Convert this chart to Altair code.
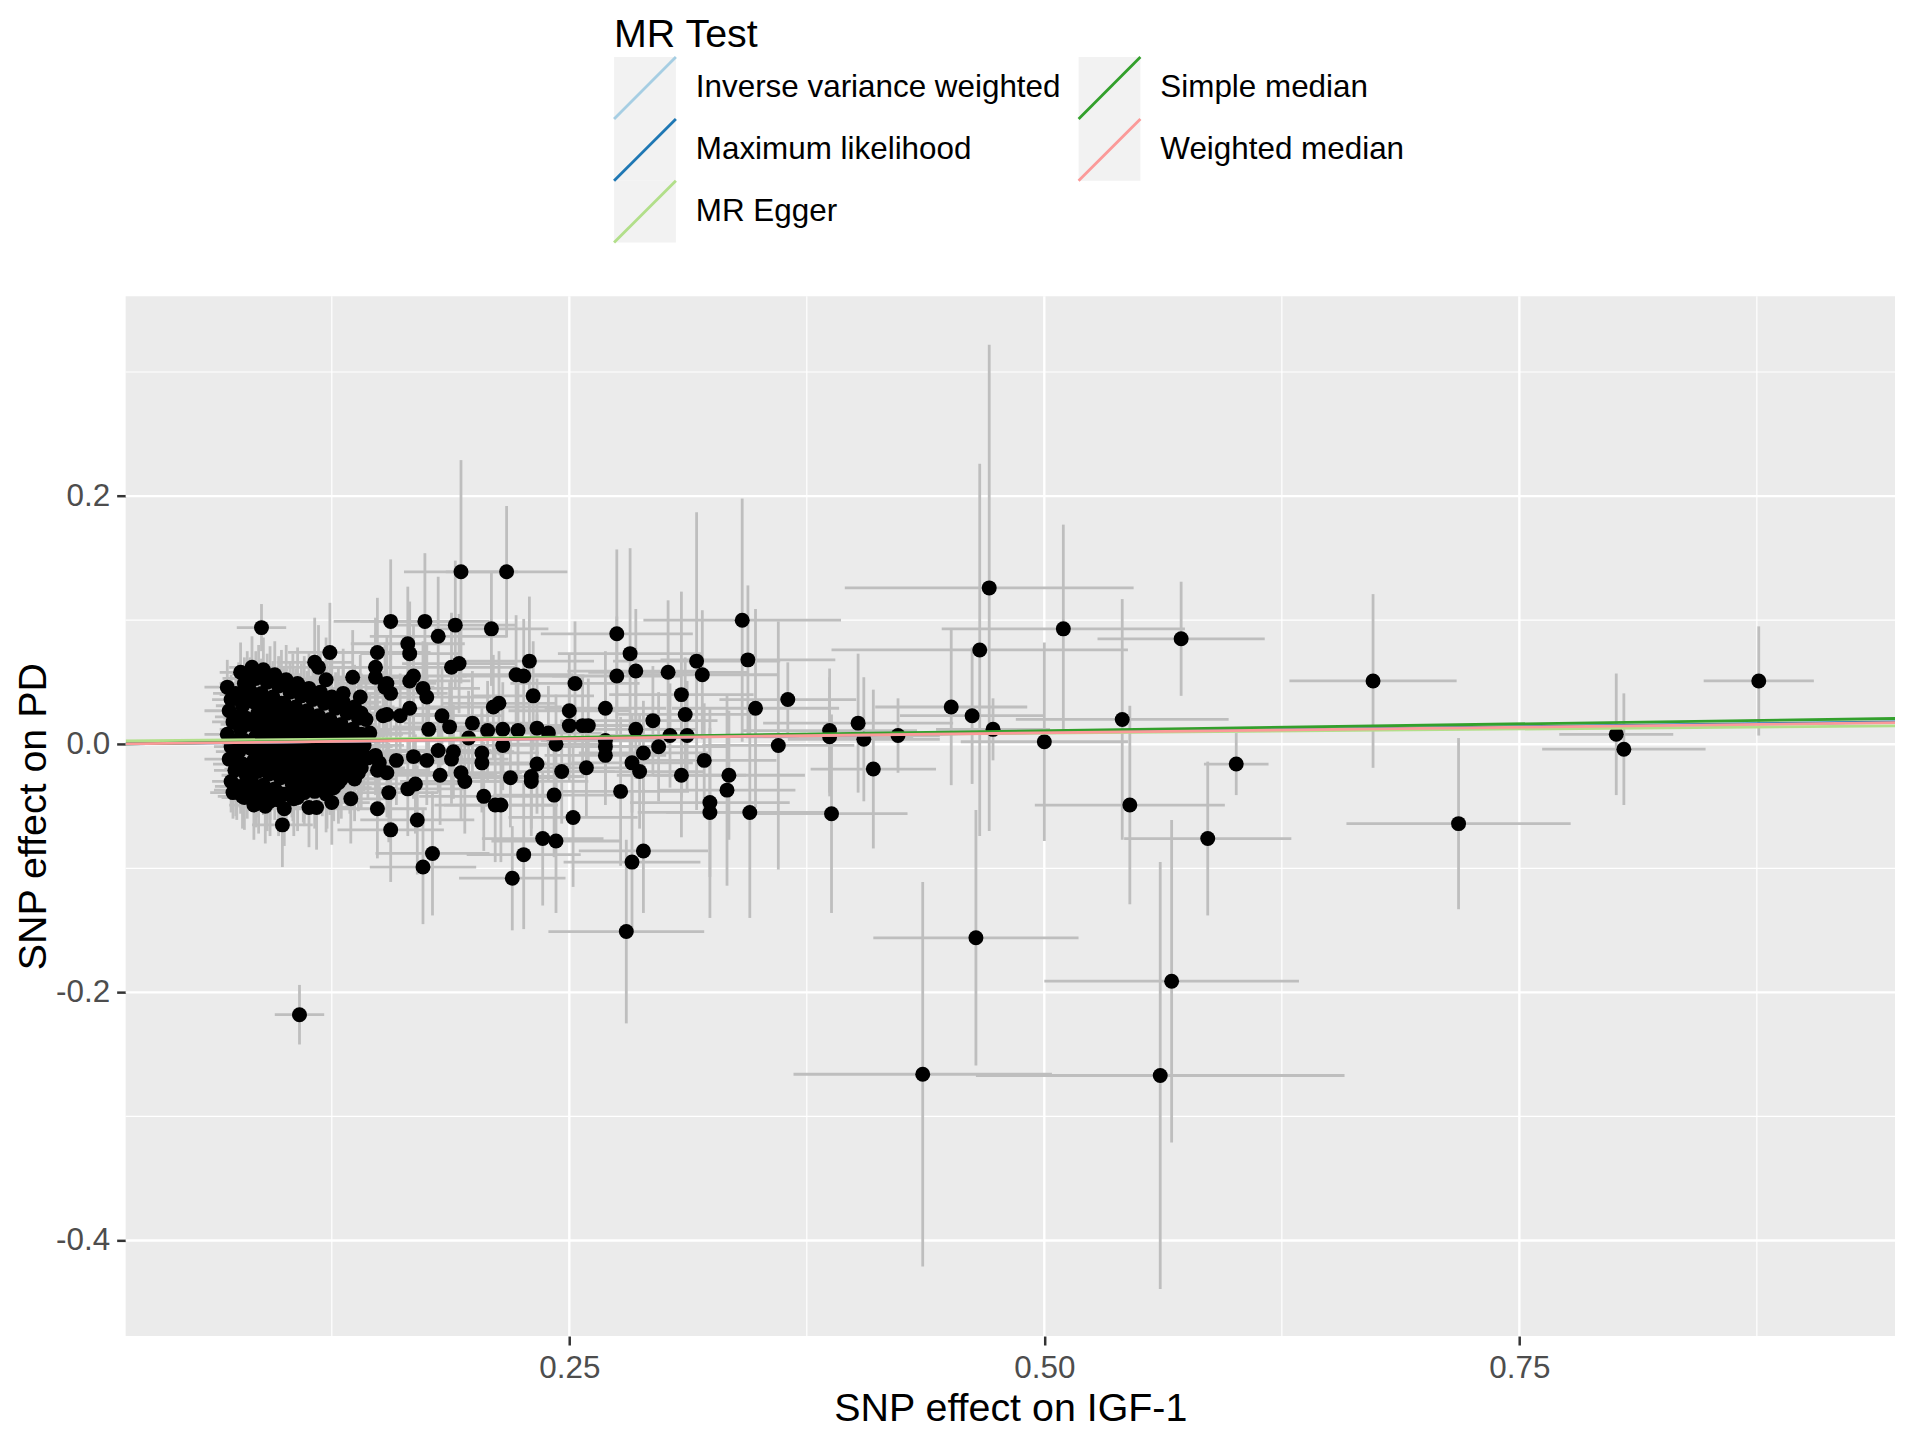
import altair as alt
import pandas as pd

# ---------------- data ----------------
# dense cluster of SNPs (small IGF-1 effects)
dense_x = [
    .070, .072, .071, .073, .070, .072, .071, .074, .072, .073,
    .077, .079, .076, .078, .080, .077, .079, .076, .078, .080, .077, .079,
    .083, .085, .082, .084, .086, .083, .085, .082, .084, .086, .083, .085, .084,
    .089, .091, .088, .090, .092, .089, .091, .088, .090, .092, .089, .091, .090,
    .095, .097, .094, .096, .098, .095, .097, .094, .096, .098, .095, .097,
    .101, .103, .100, .102, .104, .101, .103, .100, .102, .104, .101,
    .107, .109, .106, .108, .110, .107, .109, .106, .108, .110, .107,
    .113, .115, .112, .114, .116, .113, .115, .112, .114, .116,
    .119, .121, .118, .120, .122, .119, .121, .118, .120, .122,
    .125, .127, .124, .126, .128, .125, .127, .124, .126,
    .131, .133, .130, .132, .134, .131, .133, .130,
    .137, .139, .136, .138, .140, .137, .139,
    .143, .145, .142, .144,
]
dense_y = [
    .046, .036, .027, .018, .008, -.002, -.012, -.021, -.030, -.039,
    .058, .049, .040, .031, .021, .012, .003, -.006, -.016, -.025, -.034, -.043,
    .062, .053, .043, .034, .025, .016, .006, -.003, -.013, -.022, -.031, -.040, -.049,
    .060, .050, .041, .031, .022, .013, .004, -.005, -.014, -.024, -.033, -.042, -.050,
    .056, .047, .038, .028, .019, .010, .001, -.008, -.017, -.027, -.036, -.045,
    .052, .042, .033, .024, .014, .005, -.004, -.013, -.022, -.031, -.040,
    .049, .039, .030, .021, .011, .002, -.007, -.016, -.025, -.034, -.043,
    .045, .036, .027, .017, .008, -.001, -.010, -.019, -.029, -.038,
    .042, .033, .023, .014, .005, -.004, -.013, -.022, -.032, -.040,
    .038, .029, .020, .011, .002, -.008, -.017, -.026, -.035,
    .034, .025, .016, .007, -.002, -.011, -.020, -.028,
    .030, .021, .012, .003, -.006, -.015, -.023,
    .020, .009, -.001, -.011,
]
dense_se_x = [
    .012, .010, .013, .011, .012, .009, .013, .011, .010, .012,
    .011, .013, .010, .014, .012, .011, .015, .012, .010, .013, .011, .012,
    .012, .014, .011, .013, .015, .012, .014, .011, .013, .012, .014, .012, .013,
    .013, .015, .012, .014, .016, .013, .015, .012, .014, .013, .015, .013, .014,
    .014, .016, .013, .015, .017, .014, .016, .013, .015, .014, .016, .014,
    .015, .017, .014, .016, .018, .015, .017, .014, .016, .015, .017,
    .016, .018, .015, .017, .019, .016, .018, .015, .017, .016, .018,
    .017, .019, .016, .018, .020, .017, .019, .016, .018, .017,
    .018, .020, .017, .019, .021, .018, .020, .017, .019, .018,
    .019, .021, .018, .020, .022, .019, .021, .018, .020,
    .020, .022, .019, .021, .023, .020, .022, .019,
    .021, .023, .020, .022, .024, .021, .023,
    .022, .024, .021, .023,
]
dense_se_y = [
    .022, .020, .024, .021, .019, .023, .020, .022, .025, .021,
    .024, .021, .026, .022, .020, .025, .021, .023, .019, .024, .022, .026,
    .025, .022, .027, .023, .021, .026, .022, .024, .020, .025, .023, .027, .028,
    .026, .023, .028, .024, .022, .027, .023, .025, .021, .026, .024, .028, .030,
    .027, .024, .029, .025, .023, .028, .024, .026, .022, .027, .025, .029,
    .028, .025, .030, .026, .024, .029, .025, .027, .023, .028, .026,
    .029, .026, .031, .027, .025, .030, .026, .028, .024, .029, .027,
    .030, .027, .032, .028, .026, .031, .027, .029, .025, .030,
    .031, .028, .033, .029, .027, .032, .028, .030, .026, .031,
    .032, .029, .034, .030, .028, .033, .029, .031, .027,
    .033, .030, .035, .031, .029, .034, .030, .032,
    .034, .031, .036, .032, .030, .035, .031,
    .035, .032, .037, .033,
]

# more SNPs inside the cluster (in between the ones above)
inner_x = [.0745, .0745, .0745, .0745, .0745,
           .0805, .0805, .0805, .0805, .0805, .0805,
           .0865, .0865, .0865, .0865, .0865, .0865, .0865,
           .0925, .0925, .0925, .0925, .0925, .0925, .0925,
           .0985, .0985, .0985, .0985, .0985, .0985,
           .1045, .1045, .1045, .1045, .1045, .1045,
           .1105, .1105, .1105, .1105, .1105, .1105,
           .1165, .1165, .1165, .1165, .1165,
           .1225, .1225, .1225, .1225, .1225,
           .1285, .1285, .1285, .1285, .1285,
           .1345, .1345, .1345, .1345,
           .1405, .1405, .1405, .1405]
inner_y = [.041, .022, .003, -.016, -.034,
           .053, .035, .016, -.001, -.020, -.038,
           .057, .038, .020, .001, -.018, -.036, -.045,
           .055, .036, .017, -.001, -.019, -.037, -.046,
           .051, .033, .014, -.003, -.022, -.040,
           .047, .028, .010, -.009, -.027, -.036,
           .044, .025, .007, -.012, -.030, -.039,
           .040, .022, .003, -.015, -.033,
           .037, .018, .000, -.018, -.036,
           .033, .015, -.004, -.022, -.031,
           .029, .011, -.007, -.024,
           .025, .008, -.010, -.019]
inner_se_x = [.012, .011, .013, .012, .011,
              .013, .012, .014, .013, .012, .013,
              .014, .013, .015, .014, .013, .014, .015,
              .015, .014, .016, .015, .014, .015, .016,
              .016, .015, .017, .016, .015, .016,
              .017, .016, .018, .017, .016, .017,
              .018, .017, .019, .018, .017, .018,
              .019, .018, .020, .019, .018,
              .020, .019, .021, .020, .019,
              .021, .020, .022, .021, .020,
              .022, .021, .023, .022,
              .023, .022, .024, .023]
inner_se_y = [.021, .023, .020, .022, .024,
              .022, .024, .021, .023, .025, .022,
              .023, .025, .022, .024, .026, .023, .027,
              .024, .026, .023, .025, .027, .024, .028,
              .025, .027, .024, .026, .028, .025,
              .026, .028, .025, .027, .029, .026,
              .027, .029, .026, .028, .030, .027,
              .028, .030, .027, .029, .031,
              .029, .031, .028, .030, .032,
              .030, .032, .029, .031, .033,
              .031, .033, .030, .032,
              .032, .034, .031, .033]

# scattered SNPs around the cluster (x 0.07 - 0.21)
scatter_x = [.156, .174, .190, .181, .209, .193, .124, .149, .165, .166,
             .116, .118, .188, .192, .122, .136, .148, .148, .154, .156,
             .168, .166, .173, .175, .140, .131, .210, .152, .161, .166,
             .183, .187, .176, .199, .207, .197, .204, .204, .189, .188,
             .181, .175, .168, .159, .148, .150, .149, .137, .182, .193,
             .195, .169, .165, .155, .205, .211, .135, .125, .113, .117,
             .149, .170, .156, .178, .173, .099, .100, .105, .075, .078,
             .088, .108, .153, .154, .154]
scatter_y = [.099, .099, .096, .087, .093, .139, .074, .074, .081, .073,
             .066, .062, .062, .065, .052, .054, .062, .054, .049, .041,
             .055, .051, .045, .038, .038, .041, .030, .023, .023, .029,
             .023, .014, .012, .017, .011, .005, -.007, -.015, -.006, -.012,
             -.005, -.013, -.010, -.013, -.009, -.015, -.021, -.028, -.025, -.023,
             -.030, -.032, -.036, -.039, -.042, -.049, -.044, -.047, -.051, -.051,
             -.052, -.061, -.069, -.088, -.099, -.065, -.052, -.044, -.037, -.042,
             .094, -.218, .046, .024, -.023]
scatter_se_x = [.030, .034, .032, .036, .030, .030, .022, .028, .030, .026,
                .020, .022, .034, .030, .022, .024, .026, .028, .026, .030,
                .028, .032, .030, .034, .024, .022, .036, .028, .030, .026,
                .032, .030, .034, .036, .034, .032, .030, .034, .032, .030,
                .028, .030, .026, .028, .026, .024, .026, .022, .030, .032,
                .034, .028, .030, .026, .034, .032, .022, .020, .018, .020,
                .026, .030, .028, .030, .028, .016, .016, .018, .012, .013,
                .013, .013, .026, .028, .026]
scatter_se_y = [.050, .055, .052, .048, .046, .090, .040, .044, .046, .042,
                .036, .034, .044, .040, .034, .038, .040, .036, .038, .036,
                .042, .040, .038, .044, .034, .036, .042, .036, .034, .038,
                .040, .036, .038, .042, .040, .038, .036, .040, .038, .036,
                .034, .036, .034, .036, .032, .034, .036, .034, .040, .038,
                .042, .040, .038, .040, .044, .046, .036, .034, .032, .034,
                .040, .044, .042, .050, .046, .034, .030, .030, .024, .026,
                .019, .024, .036, .034, .036]

# SNPs with moderate IGF-1 effects (x 0.21 - 0.40)
mid_x = [.217, .341, .275, .282, .285, .275, .302, .317, .320, .344,
         .309, .311, .294, .285, .303, .312, .348, .365, .360, .387,
         .387, .402, .321, .309, .334, .333, .324, .324, .345, .388,
         .297, .289, .283, .287, .277, .269, .269, .269, .259, .269,
         .257, .260, .250, .250, .253, .246, .243, .239, .233, .231,
         .229, .222, .226, .223, .215, .215, .213, .233, .230, .230,
         .219, .242, .252, .214, .236, .243, .226, .220, .283, .289,
         .280]
mid_y = [.139, .100, .089, .073, .059, .055, .058, .067, .056, .068,
         .040, .024, .019, .012, .007, .007, .029, .036, -.001, .011,
         .006, .017, -.013, -.025, -.025, -.037, -.047, -.055, -.055, -.056,
         -.002, -.007, -.015, -.022, -.038, -.009, -.002, .003, -.019, .029,
         .015, .015, .015, .027, .049, -.022, .000, .009, .013, .039,
         .067, .056, .055, .011, .012, -.001, .033, -.016, -.026, -.030,
         -.027, -.041, -.059, -.049, -.076, -.078, -.089, -.108, -.095, -.086,
         -.151]
mid_se_x = [.032, .052, .040, .038, .036, .034, .042, .044, .040, .046,
            .038, .036, .034, .032, .036, .040, .044, .036, .040, .046,
            .044, .050, .038, .034, .040, .036, .042, .038, .044, .040,
            .036, .034, .032, .034, .036, .032, .030, .034, .030, .032,
            .030, .028, .030, .032, .034, .028, .030, .028, .030, .032,
            .034, .030, .032, .028, .030, .028, .030, .030, .028, .030,
            .028, .032, .034, .030, .032, .034, .030, .028, .036, .034,
            .041]
mid_se_y = [.053, .098, .068, .085, .050, .048, .058, .120, .052, .060,
            .083, .046, .044, .040, .042, .044, .080, .030, .100, .050,
            .048, .056, .046, .050, .052, .077, .060, .085, .085, .080,
            .044, .042, .040, .046, .060, .040, .038, .042, .040, .046,
            .040, .038, .044, .046, .050, .042, .040, .038, .040, .044,
            .052, .048, .046, .040, .038, .036, .042, .040, .042, .044,
            .040, .050, .056, .046, .054, .058, .060, .042, .056, .050,
            .074]

# SNPs with large IGF-1 effects
far_x = [.423, .405, .410, .451, .462, .466, .471, .473, .464, .436,
         .561, .567, .500, .510, .541, .545, .572, .601, .586, .673,
         .718, .801, .805, .876]
far_y = [.007, .004, -.020, .030, .023, .076, .126, .012, -.156, -.266,
         -.267, -.191, .002, .093, .020, -.049, .085, -.016, -.076, .051,
         -.064, .008, -.004, .051]
far_se_x = [.022, .040, .033, .040, .038, .078, .076, .030, .054, .068,
            .097, .067, .044, .064, .056, .050, .044, .017, .044, .044,
            .059, .030, .043, .029]
far_se_y = [.030, .050, .064, .063, .055, .150, .196, .025, .103, .155,
            .172, .130, .080, .084, .097, .080, .046, .025, .062, .070,
            .069, .049, .045, .044]

# MR estimates (lines through the scatter)
methods = ["Inverse variance weighted", "Maximum likelihood", "MR Egger",
           "Simple median", "Weighted median"]
method_colors = ["#a6cee3", "#1f78b4", "#b2df8a", "#33a02c", "#fb9a99"]
intercepts = [0.0, 0.0, 0.0025, 0.0, 0.0]
slopes = [0.0185, 0.0189, 0.0130, 0.0219, 0.0183]

x_domain = [0.0165, 0.9477]
y_domain = [-0.477, 0.361]
x_major = [0.25, 0.50, 0.75]
x_minor = [0.125, 0.375, 0.625, 0.875]
y_major = [-0.4, -0.2, 0.0, 0.2]
y_minor = [-0.3, -0.1, 0.1, 0.3]

# ---------------- tables ----------------
snp = pd.DataFrame({
    "x": dense_x + inner_x + scatter_x + mid_x + far_x,
    "y": dense_y + inner_y + scatter_y + mid_y + far_y,
    "sx": dense_se_x + inner_se_x + scatter_se_x + mid_se_x + far_se_x,
    "sy": dense_se_y + inner_se_y + scatter_se_y + mid_se_y + far_se_y,
})
snp["xlo"] = snp["x"] - snp["sx"]
snp["xhi"] = snp["x"] + snp["sx"]
snp["ylo"] = snp["y"] - snp["sy"]
snp["yhi"] = snp["y"] + snp["sy"]

line_rows = []
for m, a, b in zip(methods, intercepts, slopes):
    for xv in x_domain:
        line_rows.append({"method": m, "x": xv, "y": a + b * xv})
lines = pd.DataFrame(line_rows)

FONT = "Liberation Sans"
X_TITLE = "SNP effect on IGF-1"
Y_TITLE = "SNP effect on PD"
PLOT_W = 1775
PLOT_H = 1043
LEGEND_H = 285
LABEL_FS = 31.5
TITLE_FS = 39.5

xscale = alt.Scale(domain=x_domain, nice=False, zero=False)
yscale = alt.Scale(domain=y_domain, nice=False, zero=False)

x_axis = alt.Axis(values=x_major, format=".2f", grid=False, domain=False,
                  tickSize=9, tickWidth=2.5, tickColor="#333333",
                  labelColor="#4d4d4d", labelFontSize=LABEL_FS, labelFont=FONT,
                  labelPadding=8, labelFlush=False,
                  titleFontSize=TITLE_FS, titleFont=FONT, titleFontWeight="normal",
                  titleColor="black", titlePadding=5)
y_axis = alt.Axis(values=y_major, grid=False, domain=False,
                  labelExpr="replace(format(datum.value, '.1f'), '\u2212', '-')",
                  tickSize=9, tickWidth=2.5, tickColor="#333333",
                  labelColor="#4d4d4d", labelFontSize=LABEL_FS, labelFont=FONT,
                  labelPadding=7, labelFlush=False,
                  titleFontSize=TITLE_FS, titleFont=FONT, titleFontWeight="normal",
                  titleColor="black", titlePadding=2)


def X(field):
    return alt.X(field, type="quantitative", scale=xscale, axis=x_axis, title=X_TITLE)


def Y(field):
    return alt.Y(field, type="quantitative", scale=yscale, axis=y_axis, title=Y_TITLE)


grid_minor_x = alt.Chart(pd.DataFrame({"v": x_minor})).mark_rule(
    color="white", strokeWidth=1.2).encode(x=X("v"))
grid_major_x = alt.Chart(pd.DataFrame({"v": x_major})).mark_rule(
    color="white", strokeWidth=2.4).encode(x=X("v"))
grid_minor_y = alt.Chart(pd.DataFrame({"v": y_minor})).mark_rule(
    color="white", strokeWidth=1.2).encode(y=Y("v"))
grid_major_y = alt.Chart(pd.DataFrame({"v": y_major})).mark_rule(
    color="white", strokeWidth=2.4).encode(y=Y("v"))

base = alt.Chart(snp)
vbars = base.mark_rule(color="#bebebe", strokeWidth=2.8).encode(
    x=X("x"), y=Y("ylo"), y2="yhi")
hbars = base.mark_rule(color="#bebebe", strokeWidth=2.8).encode(
    x=X("xlo"), x2="xhi", y=Y("y"))
points = base.mark_circle(size=225, color="black", opacity=1).encode(
    x=X("x"), y=Y("y"))

color_scale = alt.Scale(domain=methods, range=method_colors)
fit_lines = alt.Chart(lines).mark_line(strokeWidth=2.8, clip=True).encode(
    x=X("x"), y=Y("y"),
    color=alt.Color("method:N", scale=color_scale, legend=None),
    detail="method:N",
)

main = alt.layer(
    grid_minor_x, grid_minor_y, grid_major_x, grid_major_y,
    vbars, hbars, points, fit_lines
).properties(
    width=PLOT_W, height=PLOT_H,
    view=alt.ViewBackground(fill="#EBEBEB", stroke=None),
)

# ---------------- legend drawn as its own small panel ----------------
# (the panel's origin lines up with the plot area's left edge)
leg = pd.DataFrame({
    "method": methods,
    "col": [i // 3 for i in range(len(methods))],
    "row": [i % 3 for i in range(len(methods))],
})
lx = alt.X("col:Q", scale=alt.Scale(domain=[0, 1], range=[521, 987]), axis=None)
ly = alt.Y("row:Q", scale=alt.Scale(domain=[0, 2], range=[78, 202]), axis=None)

leg_keys = alt.Chart(leg).mark_square(size=3844, color="#F2F2F2", opacity=1).encode(
    x=lx, y=ly)
leg_lines = alt.Chart(leg).mark_rule(
    strokeWidth=2.8, xOffset=-31, x2Offset=31, yOffset=31, y2Offset=-31
).encode(
    x=lx, x2="col:Q", y=ly, y2="row:Q",
    color=alt.Color("method:N", scale=color_scale, legend=None),
)
leg_labels = alt.Chart(leg).mark_text(
    align="left", baseline="middle", dx=51, fontSize=LABEL_FS, font=FONT, color="black"
).encode(x=lx, y=ly, text="method:N")
leg_title = alt.Chart(pd.DataFrame({"t": ["MR Test"], "col": [0], "row": [-1]})).mark_text(
    align="left", baseline="top", dx=-31, dy=-10, fontSize=TITLE_FS, font=FONT, color="black"
).encode(x=lx, y=ly, text="t:N")

legend_panel = alt.layer(leg_keys, leg_lines, leg_labels, leg_title).properties(
    width=PLOT_W, height=LEGEND_H,
    view=alt.ViewBackground(fill="white", stroke=None),
)

chart = alt.vconcat(legend_panel, main, spacing=0).properties(
    padding={"left": 5, "top": 0, "right": 0, "bottom": 0}, background="white"
).configure(font=FONT).configure_view(stroke=None)

chart.save("out.html", embed_options={"renderer": "svg", "actions": False})
